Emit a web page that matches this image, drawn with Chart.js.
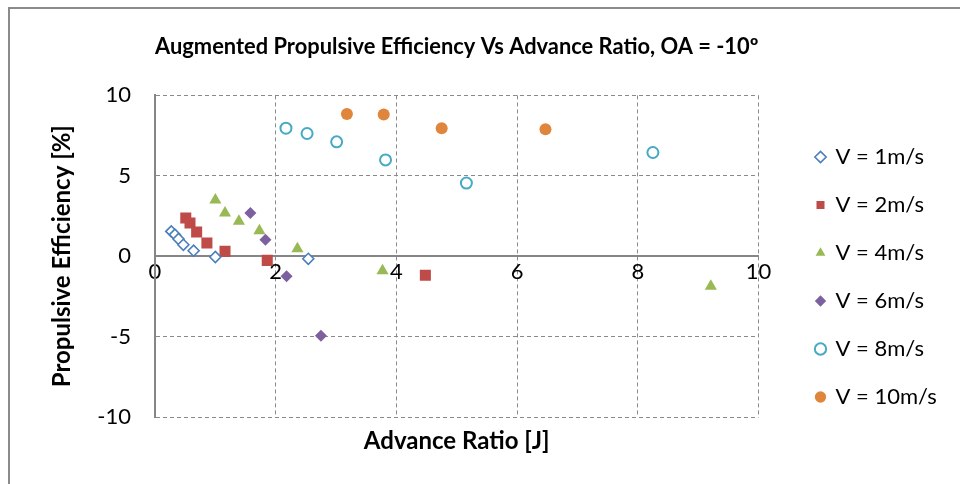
<!DOCTYPE html>
<html>
<head>
<meta charset="utf-8">
<script src="https://cdn.jsdelivr.net/npm/chart.js@4"></script>
<style>
  html, body { margin: 0; padding: 0; background: #fff; }
</style>
</head>
<body>
<canvas id="effChart" width="960" height="484"></canvas>
<script>
// Advance ratio (x) and efficiency in % (y) for each speed
var v1x = [0.27, 0.33, 0.39, 0.47, 0.64, 1.00, 2.54];
var v1y = [1.54, 1.34, 1.07, 0.71, 0.34, -0.05, -0.16];
var v2x = [0.51, 0.58, 0.69, 0.86, 1.16, 1.86, 4.48];
var v2y = [2.37, 2.06, 1.50, 0.82, 0.30, -0.26, -1.19];
var v4x = [1.00, 1.16, 1.39, 1.73, 2.36, 3.77, 9.21];
var v4y = [3.50, 2.68, 2.17, 1.59, 0.47, -0.90, -1.87];
var v6x = [1.58, 1.83, 2.18, 2.75];
var v6y = [2.68, 1.02, -1.25, -4.94];
var v8x = [2.17, 2.52, 3.01, 3.82, 5.16, 8.25];
var v8y = [7.96, 7.63, 7.11, 5.99, 4.55, 6.45];
var v10x = [3.18, 3.79, 4.75, 6.47];
var v10y = [8.85, 8.81, 7.96, 7.90];

var seriesNames = ["V = 1m/s", "V = 2m/s", "V = 4m/s", "V = 6m/s", "V = 8m/s", "V = 10m/s"];
var xTicks = [0, 2, 4, 6, 8, 10];
var yTicks = [-10, -5, 0, 5, 10];

function pts(xs, ys) {
    return xs.map(function (x, i) { return { x: x, y: ys[i] }; });
}

var gridGray = "#8a8a8a";
var axisGray = "#868686";
var font = "Lato";

// white page plus the outer chart frame (left and top edges only)
var framePlugin = {
    id: "frame",
    beforeDraw: function (chart) {
        var c = chart.ctx;
        c.save();
        c.fillStyle = "#fff";
        c.fillRect(0, 0, chart.width, chart.height);
        c.strokeStyle = "#8a8a8a";
        c.lineWidth = 2;
        c.beginPath();
        c.moveTo(9, chart.height);
        c.lineTo(9, 8);
        c.lineTo(chart.width, 8);
        c.stroke();
        c.restore();
    }
};

var ctx = document.getElementById("effChart");

var effChart = new Chart(ctx, {
    type: 'scatter',
    data: {
        datasets: [
            {
                label: seriesNames[0],
                data: pts(v1x, v1y),
                pointStyle: 'rectRot',
                pointRadius: 5.5,
                pointHoverRadius: 5.5,
                borderColor: "#4a7ebb",
                backgroundColor: "#ffffff",
                borderWidth: 1.6
            },
            {
                label: seriesNames[1],
                data: pts(v2x, v2y),
                pointStyle: 'rect',
                pointRadius: 7.8,
                pointHoverRadius: 7.8,
                borderColor: "#be4b48",
                backgroundColor: "#be4b48",
                borderWidth: 0
            },
            {
                label: seriesNames[2],
                data: pts(v4x, v4y),
                pointStyle: 'triangle',
                pointRadius: 7,
                pointHoverRadius: 7,
                borderColor: "#98b954",
                backgroundColor: "#98b954",
                borderWidth: 0
            },
            {
                label: seriesNames[3],
                data: pts(v6x, v6y),
                pointStyle: 'rectRot',
                pointRadius: 6,
                pointHoverRadius: 6,
                borderColor: "#7d60a0",
                backgroundColor: "#7d60a0",
                borderWidth: 0
            },
            {
                label: seriesNames[4],
                data: pts(v8x, v8y),
                pointStyle: 'circle',
                pointRadius: 5.5,
                pointHoverRadius: 5.5,
                borderColor: "#46aac5",
                backgroundColor: "#ffffff",
                borderWidth: 2
            },
            {
                label: seriesNames[5],
                data: pts(v10x, v10y),
                pointStyle: 'circle',
                pointRadius: 6,
                pointHoverRadius: 6,
                borderColor: "#e0863c",
                backgroundColor: "#e0863c",
                borderWidth: 0
            }
        ]
    },
    options: {
        responsive: false,
        animation: false,
        layout: { padding: { left: 48, right: 21, top: 0, bottom: 0 } },
        plugins: {
            title: {
                display: true,
                fullSize: false,
                text: "Augmented Propulsive Efficiency Vs Advance Ratio, OA = -10\u00BA",
                color: "#000",
                font: { family: font, size: 22, weight: 'bold' },
                padding: { top: 34, bottom: 35 }
            },
            legend: {
                position: 'right',
                align: 'start',
                title: { display: true, text: ' ', padding: { top: 105.6, bottom: 0 } },
                labels: {
                    usePointStyle: true,
                    boxWidth: 8,
                    boxHeight: 8,
                    padding: 26,
                    color: "#000",
                    font: { family: font, size: 22 }
                }
            },
            tooltip: { enabled: false }
        },
        scales: {
            x: {
                type: 'linear',
                position: { y: 0 },
                min: 0,
                max: 10,
                afterBuildTicks: function (s) { s.ticks = xTicks.map(function (v) { return { value: v }; }); },
                ticks: { color: "#000", padding: 3, font: { family: font, size: 22 } },
                grid: {
                    drawTicks: false,
                    lineWidth: 1,
                    color: function (c) { return c.tick && c.tick.value === 0 ? 'rgba(0,0,0,0)' : gridGray; }
                },
                border: { display: true, color: axisGray, width: 2, dash: [4, 3] }
            },
            y: {
                type: 'linear',
                position: 'left',
                min: -10,
                max: 10,
                afterBuildTicks: function (s) { s.ticks = yTicks.map(function (v) { return { value: v }; }); },
                afterFit: function (s) { s.width = 107; },
                ticks: { color: "#000", padding: 24, font: { family: font, size: 22 } },
                grid: {
                    drawTicks: false,
                    lineWidth: 1,
                    color: function (c) { return c.tick && c.tick.value === 0 ? 'rgba(0,0,0,0)' : gridGray; }
                },
                border: { display: true, color: axisGray, width: 2, dash: [4, 3] },
                title: {
                    display: true,
                    text: "Propulsive Efficiency [%]",
                    color: "#000",
                    font: { family: font, size: 24, weight: 'bold' },
                    padding: { top: 0, bottom: 0 }
                }
            },
            xTitle: {
                type: 'linear',
                position: 'bottom',
                min: 0,
                max: 10,
                afterFit: function (s) { s.height = 67; },
                ticks: { display: false },
                grid: { display: false },
                border: { display: false },
                title: {
                    display: true,
                    text: "Advance Ratio [J]",
                    color: "#000",
                    font: { family: font, size: 24, weight: 'bold' },
                    padding: { top: 0, bottom: 28.6 }
                }
            },
            yGap: {
                type: 'linear',
                position: 'right',
                afterFit: function (s) { s.width = 32; },
                ticks: { display: false },
                grid: { display: false },
                border: { display: false }
            }
        }
    },
    plugins: [framePlugin]
});
</script>
</body>
</html>
